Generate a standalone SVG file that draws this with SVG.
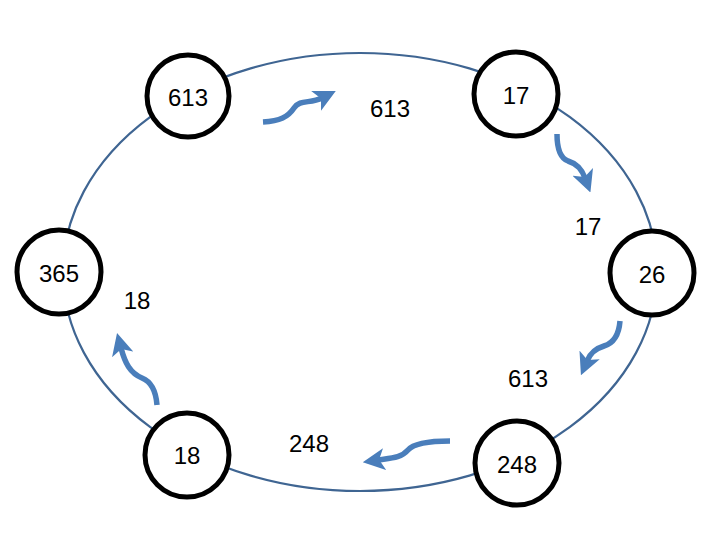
<svg xmlns="http://www.w3.org/2000/svg" width="720" height="540" viewBox="0 0 720 540">
<style>
.ring{fill:none;stroke:#3F6592;stroke-width:2.2}
.node circle{fill:#fff;stroke:#000;stroke-width:5}
text{font-family:"Liberation Sans","Open Sans",sans-serif;font-size:24px;fill:#000;text-anchor:middle;dominant-baseline:central}
.arr{fill:none;stroke:#4A7EBB;stroke-width:5.5;stroke-linecap:butt;marker-end:url(#head)}
</style>
<defs>
<marker id="head" viewBox="0 0 10 10" refX="3" refY="5" markerWidth="4" markerHeight="4" orient="auto" markerUnits="strokeWidth">
<path d="M0,0 L10,5 L0,10 L2.5,5 z" fill="#4A7EBB"/>
</marker>
</defs>
<rect width="720" height="540" fill="#fff"/>
<g id="connectors">
<ellipse class="ring" cx="360" cy="272" rx="297" ry="219"/>
<path class="arr" d="M263,122 C280,121 288,117 294,108 C300,99 310,104 322,98"/>
<path class="arr" d="M557,134 C557,148 560,158 568,161 C578,164 582,170 585,178"/>
<path class="arr" d="M620,321 C619,334 614,343 604,346 C594,349 590,354 587,361"/>
<path class="arr" d="M450,441 C430,441 414,443 408,450 C401,458 392,458 378,460"/>
<path class="arr" d="M157,405 C156,392 152,382 142,378 C130,373 125,363 121,348"/>
</g>
<g id="n613" class="node"><circle cx="188" cy="96" r="41"/><text x="188" y="97">613</text></g>
<g id="n17" class="node"><circle cx="516" cy="94" r="42"/><text x="516" y="95">17</text></g>
<g id="n26" class="node"><circle cx="652" cy="273" r="42"/><text x="652" y="274">26</text></g>
<g id="n365" class="node"><circle cx="59" cy="272" r="42"/><text x="59" y="273">365</text></g>
<g id="n18" class="node"><circle cx="187" cy="455" r="42"/><text x="187" y="455">18</text></g>
<g id="n248" class="node"><circle cx="517" cy="463" r="42"/><text x="517" y="464">248</text></g>
<g id="labels">
<text x="390" y="108">613</text>
<text x="588" y="226">17</text>
<text x="137" y="300">18</text>
<text x="528" y="378">613</text>
<text x="309" y="443">248</text>
</g>
</svg>
